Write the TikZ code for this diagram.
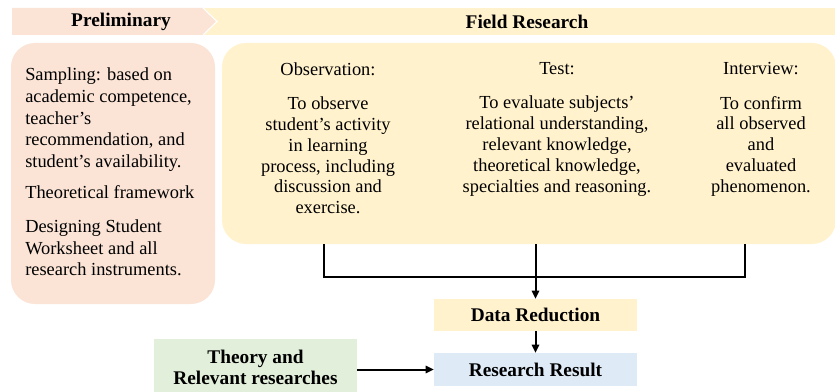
\documentclass[tikz,border=0pt]{standalone}
\usepackage{fontspec}
\setmainfont{Liberation Serif}
\usepackage{xcolor}
\usepackage{tikz}
\usetikzlibrary{arrows.meta, positioning}
\definecolor{prelimPink}{RGB}{251,228,214}
\definecolor{fieldYellow}{RGB}{255,242,204}
\definecolor{theoryGreen}{RGB}{226,239,218}
\definecolor{resultBlue}{RGB}{222,235,247}
\newcommand{\bodyfont}{\fontsize{13.8}{16}\selectfont}
\newcommand{\headfont}{\fontsize{14.5}{15.8}\selectfont\bfseries}

\begin{document}
\begin{tikzpicture}[x=0.75pt, y=-0.75pt,
  panel/.style={rectangle, rounded corners=18pt, inner sep=0pt},
  box/.style={rectangle, inner sep=0pt, font=\headfont, align=center},
  txt/.style={inner sep=0pt, font=\bodyfont},
  conn/.style={line width=1.5pt},
  arr/.style={-{Triangle[length=6pt,width=5.5pt]}, line width=1.5pt}
]
\useasboundingbox (0,0) rectangle (835,392);
% header band
\fill[fieldYellow] (202,8) rectangle (835,35);
\fill[prelimPink] (12,8) -- (203,8) -- (217,21.5) -- (203,35) -- (12,35) -- cycle;
\draw[white, line width=0.8pt] (203,8) -- (217,21.5) -- (203,35);
\node[box] (hPre) at (121,21.5) {Preliminary};
\node[box] (hField) at (527,21.5) {Field Research};

\node[panel, fill=prelimPink, minimum width=153pt, minimum height=195.75pt] (prelim) at (113,173.5) {};
\node[panel, fill=fieldYellow, minimum width=460.5pt, minimum height=150.75pt] (field) at (529,143.5) {};

\node[txt, font=\fontsize{13.8}{16.3}\selectfont, anchor=north west, align=left] (prelimTxt) at (25,67.5)
  {Sampling: based on\\ academic competence,\\ teacher's\\ recommendation, and\\ student's availability.\\[7pt]
   Theoretical framework\\[9pt] Designing Student\\ Worksheet and all\\ research instruments.};

\node[txt, font=\fontsize{13.8}{15.6}\selectfont, anchor=north, align=center] (obs) at (328,62.5)
  {Observation:\\[10pt] To observe\\ student's activity\\ in learning\\ process, including\\ discussion and\\ exercise.};
\node[txt, font=\fontsize{13.8}{15.6}\selectfont, anchor=north, align=center] (test) at (557,62.5)
  {Test:\\[10pt] To evaluate subjects'\\ relational understanding,\\ relevant knowledge,\\ theoretical knowledge,\\ specialties and reasoning.};
\node[txt, font=\fontsize{13.8}{15.6}\selectfont, anchor=north, align=center] (intv) at (761,62.5)
  {Interview:\\[10pt] To confirm\\ all observed\\ and\\ evaluated\\ phenomenon.};

\node[box, fill=fieldYellow, minimum width=152.25pt, minimum height=24pt] (dred) at (535.5,315) {Data Reduction};
\node[box, fill=resultBlue, minimum width=152.25pt, minimum height=24.75pt] (result) at (535.5,369.5) {Research Result};
\node[box, fill=theoryGreen, minimum width=152.25pt, minimum height=42pt] (theory) at (255.5,367) {Theory and\\ Relevant researches};

\coordinate (jL) at (324,277);
\coordinate (jR) at (745,277);
\draw[conn] (field.south -| jL) -- (jL) -- (jR) -- (field.south -| jR);
\draw[arr] (field.south -| dred.north) -- (dred.north);
\draw[arr] (dred) -- (result);
\draw[arr] (theory.east |- result) -- (result.west);
\end{tikzpicture}
\end{document}
